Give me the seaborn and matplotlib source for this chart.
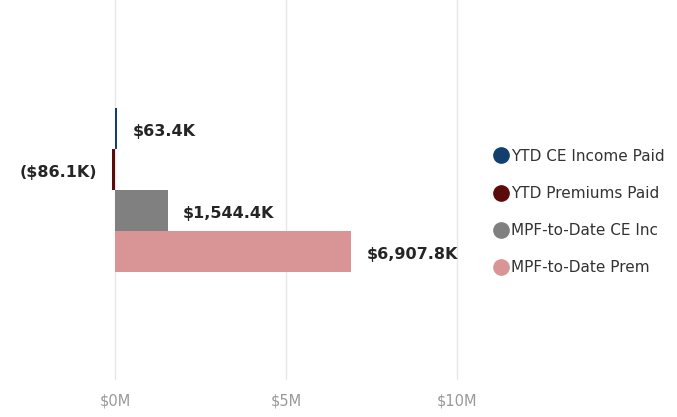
import matplotlib
matplotlib.use("Agg")
import matplotlib.pyplot as plt
from matplotlib.lines import Line2D
import seaborn as sns
import pandas as pd

series = ["YTD CE Income Paid", "YTD Premiums Paid", "MPF-to-Date CE Inc", "MPF-to-Date Prem"]
values = [63.4e3, -86.1e3, 1544.4e3, 6907.8e3]
value_labels = ["$63.4K", "($86.1K)", "$1,544.4K", "$6,907.8K"]
colors = ["#123f6e", "#5c0b0b", "#808080", "#d99596"]
tick_values = [0, 5e6, 10e6]
tick_labels = ["$0M", "$5M", "$10M"]

df = pd.DataFrame({"group": ["All"] * len(series), "series": series, "value": values})

sns.set_style("white")
plt.rcParams["font.family"] = ["DejaVu Sans"]

fig = plt.figure(figsize=(6.77, 4.17), dpi=100)
ax = fig.add_axes([9 / 677, 37 / 417, 465 / 677, 380 / 417])

sns.barplot(data=df, y="group", x="value", hue="series", hue_order=series,
            palette=colors, orient="h", width=0.43, ax=ax, legend=False,
            saturation=1, errorbar=None, linewidth=0)

ax.set_xlim(-3.1e6, 10.5e6)
ax.set_ylim(0.5, -0.5)
ax.set_xticks(tick_values)
ax.set_xticklabels(tick_labels, color="#999999", fontsize=10.5)
ax.tick_params(axis="x", length=0, pad=9.5)
ax.set_yticks([])
ax.set_xlabel("")
ax.set_ylabel("")
for s in ax.spines.values():
    s.set_visible(False)
ax.grid(axis="x", color="#e6e6e6", linewidth=1)
ax.set_axisbelow(True)

for cont, lab in zip(ax.containers, value_labels):
    texts = ax.bar_label(cont, labels=[lab], padding=11, fontsize=11.5,
                         fontweight="bold", color="#252525")
    for t in texts:
        t.xyann = (t.xyann[0], t.xyann[1] - 2.2)

handles = [Line2D([0], [0], marker="o", linestyle="", markersize=11,
                  markerfacecolor=c, markeredgecolor=c) for c in colors]
fig.legend(handles, series, loc="center left", bbox_to_anchor=(489.5 / 677, 1 - 212 / 417),
           frameon=False, fontsize=11, handletextpad=-0.1, labelspacing=1.45,
           labelcolor="#333333", borderpad=0, borderaxespad=0, handlelength=1.5)

fig.savefig("out.png", dpi=100)
